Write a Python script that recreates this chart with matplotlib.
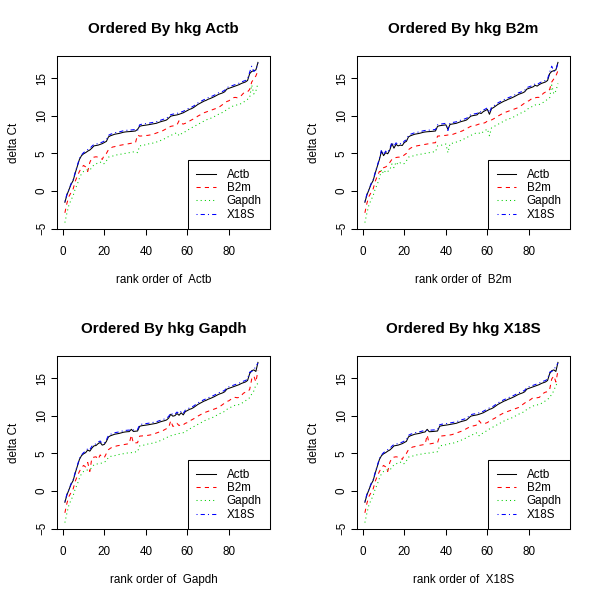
import numpy as np
import matplotlib
matplotlib.use("Agg")
import matplotlib.pyplot as plt

plt.rcParams['font.family'] = ['Liberation Sans', 'DejaVu Sans']

genes = ["Actb", "B2m", "Gapdh", "X18S"]
colors = ["#000000", "#FF0000", "#00CD00", "#0000FF"]
styles = ["-", (0, (4, 4)), (0, (1, 3)), (0, (1, 3, 4, 3))]

# delta Ct per sample (samples listed in Actb order)
actb = [-1.5, -0.5, 0.2, 0.9, 1.4, 2.4, 3.3, 4.2, 4.7, 4.95,
        5.1, 5.3, 5.45, 5.7, 6.0, 6.05, 6.1, 6.2, 6.3, 6.45,
        6.6, 7.2, 7.35, 7.45, 7.55, 7.6, 7.65, 7.72, 7.8, 7.85,
        7.88, 7.9, 7.92, 7.95, 7.98, 8.2, 8.6, 8.68, 8.72, 8.76,
        8.8, 8.85, 8.9, 8.95, 9.0, 9.1, 9.2, 9.28, 9.35, 9.45,
        9.7, 9.95, 10.02, 10.07, 10.12, 10.2, 10.3, 10.4, 10.55, 10.7,
        10.85, 10.95, 11.1, 11.3, 11.5, 11.65, 11.8, 11.95, 12.05, 12.2,
        12.3, 12.42, 12.55, 12.7, 12.85, 12.95, 13.05, 13.2, 13.55, 13.65,
        13.75, 13.85, 13.95, 14.05, 14.15, 14.3, 14.4, 14.5, 14.7, 15.6,
        15.9, 16.0, 16.1, 17.1]
b2m = [-2.9, -1.6, -0.7, -0.2, 0.3, 1.3, 2.0, 2.6, 3.1, 3.4,
       3.2, 2.6, 3.8, 4.4, 4.5, 4.55, 4.5, 4.45, 4.2, 4.8,
       5.0, 5.5, 5.7, 5.85, 5.9, 6.0, 6.05, 6.1, 6.15, 6.2,
       6.25, 6.3, 6.35, 6.4, 6.42, 7.45, 7.3, 7.32, 7.35, 7.38,
       7.4, 7.45, 7.5, 7.6, 7.7, 7.8, 7.9, 8.0, 8.15, 8.3,
       8.45, 8.6, 8.65, 8.7, 8.8, 9.35, 9.0, 8.9, 9.0, 9.1,
       9.3, 9.45, 9.6, 9.75, 9.95, 10.1, 10.25, 10.4, 10.5, 10.6,
       10.7, 10.8, 10.9, 11.0, 11.1, 11.3, 11.5, 11.7, 11.9, 12.0,
       12.2, 12.4, 12.45, 12.4, 12.45, 12.7, 13.0, 13.15, 13.2, 13.5,
       14.5, 14.9, 15.3, 16.0]
gapdh = [-4.2, -2.9, -1.8, -1.2, -0.6, 0.3, 0.9, 1.7, 2.3, 2.6,
         2.75, 2.85, 2.8, 3.1, 3.5, 3.6, 3.75, 3.85, 3.6, 3.65,
         4.0, 4.5, 4.6, 4.65, 4.7, 4.8, 4.85, 4.9, 4.95, 5.0,
         5.05, 5.1, 5.15, 5.2, 5.22, 5.1, 6.0, 6.05, 6.1, 6.15,
         6.25, 6.3, 6.35, 6.4, 6.5, 6.6, 6.7, 6.85, 6.95, 7.1,
         7.25, 7.4, 7.5, 7.65, 7.75, 7.35, 7.6, 7.7, 7.9, 8.05,
         8.25, 8.4, 8.55, 8.7, 8.85, 9.0, 9.15, 9.3, 9.45, 9.55,
         9.65, 9.75, 9.9, 10.05, 10.2, 10.35, 10.45, 10.6, 10.85, 11.0,
         11.15, 11.3, 11.4, 11.45, 11.5, 11.65, 11.8, 12.0, 12.2, 12.4,
         14.1, 12.9, 13.3, 14.3]
x18s = [-1.4, -0.4, 0.25, 1.0, 1.5, 2.5, 3.4, 4.3, 4.8, 5.1,
        5.3, 5.5, 5.65, 5.95, 6.2, 6.25, 6.3, 6.4, 6.5, 6.65,
        6.8, 7.4, 7.55, 7.65, 7.75, 7.8, 7.85, 7.92, 8.0, 8.05,
        8.08, 8.1, 8.12, 8.15, 8.18, 8.05, 8.8, 8.88, 8.92, 8.96,
        9.0, 9.05, 9.1, 9.15, 9.2, 9.3, 9.4, 9.5, 9.58, 9.68,
        9.92, 10.15, 10.22, 10.27, 10.32, 10.4, 10.5, 10.6, 10.75, 10.9,
        11.05, 11.15, 11.3, 11.5, 11.7, 11.85, 12.0, 12.15, 12.25, 12.4,
        12.5, 12.62, 12.75, 12.9, 13.05, 13.15, 13.25, 13.4, 13.75, 13.85,
        13.95, 14.05, 14.15, 14.25, 14.35, 14.5, 14.6, 14.7, 14.9, 15.8,
        16.6, 15.9, 16.1, 17.0]
n_wells = 96

deltaCt = np.column_stack([actb, b2m, gapdh, x18s])
lo, hi = deltaCt.min(), deltaCt.max()
ylim = (lo - 0.04 * (hi - lo), hi + 0.04 * (hi - lo))
xlim = (1 - 0.04 * (n_wells - 1), n_wells + 0.04 * (n_wells - 1))

fs = 8.4
fig = plt.figure(figsize=(6, 6), dpi=100)
W, H = 213, 173
for k, hkg in enumerate(genes):
    row, col = divmod(k, 2)
    left = 57 + 300 * col
    bottom = 600 - 229 - 300 * row
    ax = fig.add_axes([left / 600, bottom / 600, W / 600, H / 600])
    order = np.argsort(deltaCt[:, k], kind="stable")
    rank = np.arange(1, len(order) + 1)
    for j, g in enumerate(genes):
        ax.plot(rank, deltaCt[order, j], color=colors[j], linestyle=styles[j],
                lw=0.75, label=g)
    ax.set_xlim(xlim)
    ax.set_ylim(ylim)
    ax.set_xticks([0, 20, 40, 60, 80])
    ax.set_yticks([-5, 0, 5, 10, 15])
    ax.tick_params(labelsize=fs, length=4.3, width=0.75, colors="black")
    ax.tick_params(axis="x", pad=7.6)
    ax.tick_params(axis="y", pad=2.2)
    plt.setp(ax.get_yticklabels(), rotation=90, va="center")
    for s in ax.spines.values():
        s.set_linewidth(0.75)
    ax.text(0.5, 1 + 27.5 / H, "Ordered By hkg " + hkg, transform=ax.transAxes,
            ha="center", va="center", fontsize=10.9, fontweight="bold")
    ax.text(0.5, -51 / H, "rank order of  " + hkg, transform=ax.transAxes,
            ha="center", va="center", fontsize=fs)
    ax.text(-43 / W, 0.5, "delta Ct", transform=ax.transAxes, rotation=90,
            ha="center", va="center", fontsize=fs)
    leg = ax.legend(loc="lower right", fontsize=fs, frameon=True, fancybox=False,
                    edgecolor="black", framealpha=1, borderaxespad=0,
                    handlelength=1.7, handletextpad=0.9, borderpad=0.7,
                    labelspacing=0.12)
    leg.get_frame().set_linewidth(0.75)

fig.savefig("out.png", dpi=100)
